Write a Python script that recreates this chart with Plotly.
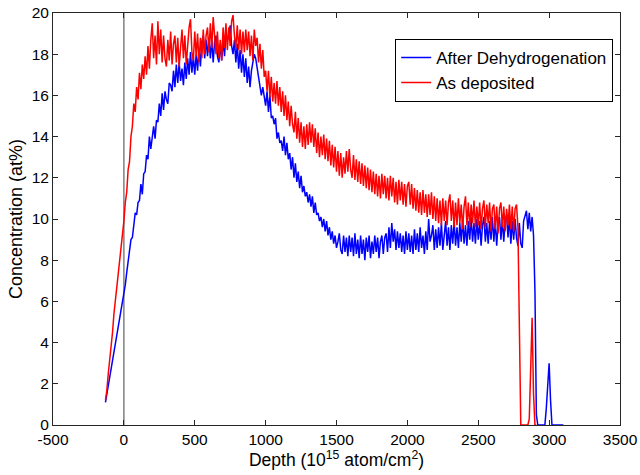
import plotly.graph_objects as go

# Depth grid (10^15 atom/cm^2), 10-unit channels
red_start, blue_start, step = -130, -130, 10

as_deposited = [
    1.2, 1.7, 2.5, 3.1, 3.9, 4.5, 5.4, 6.0, 6.9, 7.3,
    8.0, 8.5, 9.3, 9.9, 10.8, 11.3, 12.4, 12.8, 14.0, 14.5,
    15.6, 15.2, 16.4, 15.8, 17.1, 16.3, 17.5, 16.8, 17.9, 17.0,
    18.4, 17.3, 18.7, 19.5, 17.8, 18.9, 17.5, 19.6, 18.0, 19.2,
    17.6, 18.9, 17.8, 17.4, 18.7, 17.7, 19.1, 17.5, 18.5, 18.9,
    17.6, 18.8, 17.4, 18.6, 19.2, 17.8, 18.9, 17.5, 18.7, 19.3,
    19.7, 18.1, 17.7, 19.1, 17.9, 19.0, 17.6, 18.8, 17.8, 19.2,
    18.0, 18.9, 19.3, 18.1, 19.5, 18.3, 19.8, 18.6, 18.0, 19.1,
    17.8, 18.7, 17.7, 19.3, 18.3, 19.5, 18.2, 19.3, 18.4, 19.6,
    19.9, 18.9, 18.3, 19.4, 18.2, 19.2, 18.0, 19.1, 18.1, 19.2,
    18.2, 19.1, 17.9, 18.9, 17.7, 19.2, 18.4, 18.8, 17.6, 18.5,
    17.3, 18.2, 16.9, 17.2, 16.2, 17.2, 15.9, 16.9, 15.7, 16.6,
    15.6, 16.7, 15.5, 16.4, 15.2, 16.2, 15.0, 16.0, 14.8, 15.7,
    14.5, 15.5, 14.6, 14.2, 15.2, 13.9, 14.9, 13.7, 14.7, 13.5,
    14.5, 13.4, 14.6, 13.6, 14.7, 13.7, 14.6, 13.5, 14.4, 13.2,
    14.2, 13.0, 14.0, 13.1, 14.1, 12.9, 13.9, 12.8, 13.8, 12.6,
    13.6, 12.5, 13.5, 12.3, 13.3, 12.1, 13.2, 12.0, 13.0, 12.2,
    13.3, 12.3, 13.4, 12.4, 12.0, 13.1, 11.9, 12.9, 11.8, 12.8,
    11.7, 12.7, 11.6, 12.6, 11.5, 12.5, 11.4, 12.4, 11.3, 12.3,
    11.2, 12.2, 11.1, 12.1, 11.0, 12.2, 11.2, 12.1, 11.0, 12.0,
    10.9, 12.1, 11.1, 12.0, 10.8, 11.8, 10.7, 11.9, 10.9, 11.8,
    10.7, 11.7, 10.6, 11.6, 11.8, 10.7, 11.7, 10.5, 11.5, 10.4,
    11.4, 10.3, 11.3, 10.2, 11.4, 10.3, 11.2, 10.1, 11.2, 10.2,
    11.3, 10.0, 11.1, 9.9, 11.0, 9.8, 10.9, 9.7, 11.0, 9.9,
    10.9, 9.7, 10.8, 11.2, 9.9, 10.9, 9.6, 10.8, 9.7, 11.0,
    9.8, 10.7, 9.5, 10.6, 11.1, 9.7, 10.8, 9.6, 10.7, 9.8,
    10.9, 9.6, 10.6, 9.7, 10.8, 9.5, 10.5, 10.9, 9.6, 10.7,
    9.8, 10.8, 9.4, 10.5, 10.7, 9.5, 10.6, 9.3, 10.5, 10.8,
    9.6, 10.6, 9.4, 10.5, 9.7, 10.7, 9.5, 10.6, 9.4, 10.5,
    10.7, 9.6, 4.0, 0.0, 0.0, 0.0, 0.0, 0.0, 0.0, 0.3,
    3.5, 5.2, 1.5, 0.0, 0.0,
]

after_dehydrogenation = [
    1.1, 1.5, 1.9, 2.4, 2.8, 3.2, 3.6, 4.0, 4.4, 4.8,
    5.2, 5.5, 5.9, 6.3, 6.8, 7.4, 7.9, 8.5, 9.0, 9.1,
    9.6, 10.3, 10.2, 10.8, 10.9, 11.7, 11.2, 12.2, 12.3, 13.1,
    12.9, 14.0, 13.4, 14.1, 14.5, 13.9, 14.8, 14.7, 15.6, 15.0,
    16.1, 15.3, 16.2, 15.8, 15.6, 16.6, 16.5, 16.2, 17.2, 16.4,
    17.5, 16.6, 17.6, 16.7, 17.3, 16.5, 17.6, 16.8, 17.8, 17.0,
    18.1, 17.1, 17.9, 17.0, 18.0, 17.2, 18.3, 17.4, 18.6, 18.9,
    17.8, 18.7, 17.9, 18.8, 17.8, 18.7, 17.6, 18.6, 18.9, 17.9,
    17.6, 18.5, 17.7, 18.7, 17.9, 19.0, 18.7, 18.8, 19.4, 18.4,
    18.0, 18.7, 17.6, 18.5, 17.3, 18.2, 17.1, 18.0, 16.9, 17.8,
    16.6, 17.4, 16.4, 17.2, 17.6, 18.0, 17.8, 17.4, 17.0, 16.5,
    16.0, 16.4, 15.9, 15.5, 16.2, 15.2, 16.0, 14.9, 15.0, 14.6,
    14.9, 13.9, 14.2, 13.7, 13.8, 13.3, 14.0, 13.1, 13.7, 12.9,
    13.2, 12.4, 13.0, 12.0, 12.7, 11.8, 12.3, 11.5, 12.1, 11.3,
    11.6, 11.1, 11.3, 10.8, 11.2, 10.6, 11.1, 10.3, 10.8, 10.2,
    10.3, 9.9, 10.1, 9.6, 10.0, 9.4, 9.9, 9.2, 9.6, 9.0,
    9.4, 8.8, 9.2, 8.6, 8.9, 9.3, 8.5, 8.3, 9.2, 8.4,
    9.1, 8.2, 9.2, 8.4, 9.1, 8.2, 9.3, 8.3, 9.0, 8.1,
    9.2, 8.3, 9.0, 8.0, 9.1, 8.4, 9.2, 8.1, 8.9, 8.3,
    9.2, 8.4, 9.1, 8.1, 8.9, 9.2, 8.3, 9.1, 9.3, 8.4,
    9.6, 8.6, 9.8, 8.9, 9.5, 8.5, 9.4, 8.6, 9.3, 8.4,
    9.2, 8.3, 9.4, 8.5, 9.3, 8.4, 9.2, 8.3, 9.5, 8.5,
    9.3, 8.4, 9.6, 8.6, 9.2, 8.3, 9.4, 8.5, 10.0, 8.9,
    9.2, 9.7, 8.5, 9.5, 8.6, 9.6, 8.7, 9.8, 8.5, 9.4,
    9.9, 8.7, 9.6, 8.5, 9.7, 8.8, 9.9, 8.7, 9.6, 8.6,
    9.8, 8.9, 10.0, 8.8, 9.7, 8.7, 9.9, 9.0, 10.1, 8.9,
    9.8, 8.8, 10.0, 9.0, 9.9, 8.7, 9.7, 10.1, 8.9, 9.8,
    8.8, 9.9, 9.0, 10.1, 8.9, 9.9, 8.7, 9.8, 10.1, 9.0,
    10.0, 8.9, 9.9, 10.2, 9.1, 10.1, 8.8, 9.9, 9.0, 10.0,
    9.1, 8.7, 9.8, 8.8, 8.6, 9.9, 10.2, 10.4, 9.5, 10.3,
    9.4, 10.1, 9.2, 6.5, 0.5, 0.0, 0.0, 0.0, 0.0, 0.0,
    0.0, 0.8, 2.2, 3.0, 1.2, 0.0, 0.0, 0.0, 0.0, 0.0,
    0.0, 0.0, 0.0, 0.0,
]

x_ticks = [-500, 0, 500, 1000, 1500, 2000, 2500, 3000, 3500]
x_tick_labels = ["-500", "0", "500", "1000", "1500", "2000", "2500", "3000", "3500"]
y_ticks = [0, 2, 4, 6, 8, 10, 12, 14, 16, 18, 20]

red_x = [red_start + i * step for i in range(len(as_deposited))]
blue_x = [blue_start + i * step for i in range(len(after_dehydrogenation))]

FONT = "Liberation Sans, Arial, sans-serif"
AX = "#262626"

fig = go.Figure()
fig.add_trace(go.Scatter(x=blue_x, y=after_dehydrogenation, mode="lines",
                         name="After Dehydrogenation",
                         line=dict(color="#0000FF", width=1.5)))
fig.add_trace(go.Scatter(x=red_x, y=as_deposited, mode="lines",
                         name="As deposited",
                         line=dict(color="#FF0000", width=1.5)))

fig.add_shape(type="line", x0=0, x1=0, y0=0, y1=20, xref="x", yref="y",
              line=dict(color="#808080", width=1.5), layer="below")

axis_common = dict(showline=True, linecolor=AX, linewidth=1, mirror="ticks",
                   ticks="inside", ticklen=5, tickcolor=AX, showgrid=False,
                   zeroline=False, automargin=False,
                   tickfont=dict(family=FONT, size=15.5, color="#000000"))

fig.update_layout(
    width=640, height=475,
    paper_bgcolor="white", plot_bgcolor="white",
    margin=dict(l=53, r=20, t=13, b=50),
    font=dict(family=FONT, size=15, color="#000000"),
    xaxis=dict(range=[-500, 3500], tickvals=x_ticks, ticktext=x_tick_labels,
               title=dict(text="Depth (10<sup>15</sup> atom/cm<sup>2</sup>)",
                          font=dict(family=FONT, size=17.5), standoff=2),
               **axis_common),
    yaxis=dict(range=[0, 20], tickvals=y_ticks,
               title=dict(text="Concentration (at%)",
                          font=dict(family=FONT, size=18), standoff=4),
               **axis_common),
    legend=dict(x=0.988, y=0.937, xanchor="right", yanchor="top",
                bgcolor="white", bordercolor="#000000", borderwidth=1,
                font=dict(family=FONT, size=17), tracegroupgap=0,
                itemwidth=30),
    showlegend=True,
)

fig.write_html("out.html", config={"displayModeBar": False},
               post_script="document.body.style.margin='0';document.body.style.padding='0';")
